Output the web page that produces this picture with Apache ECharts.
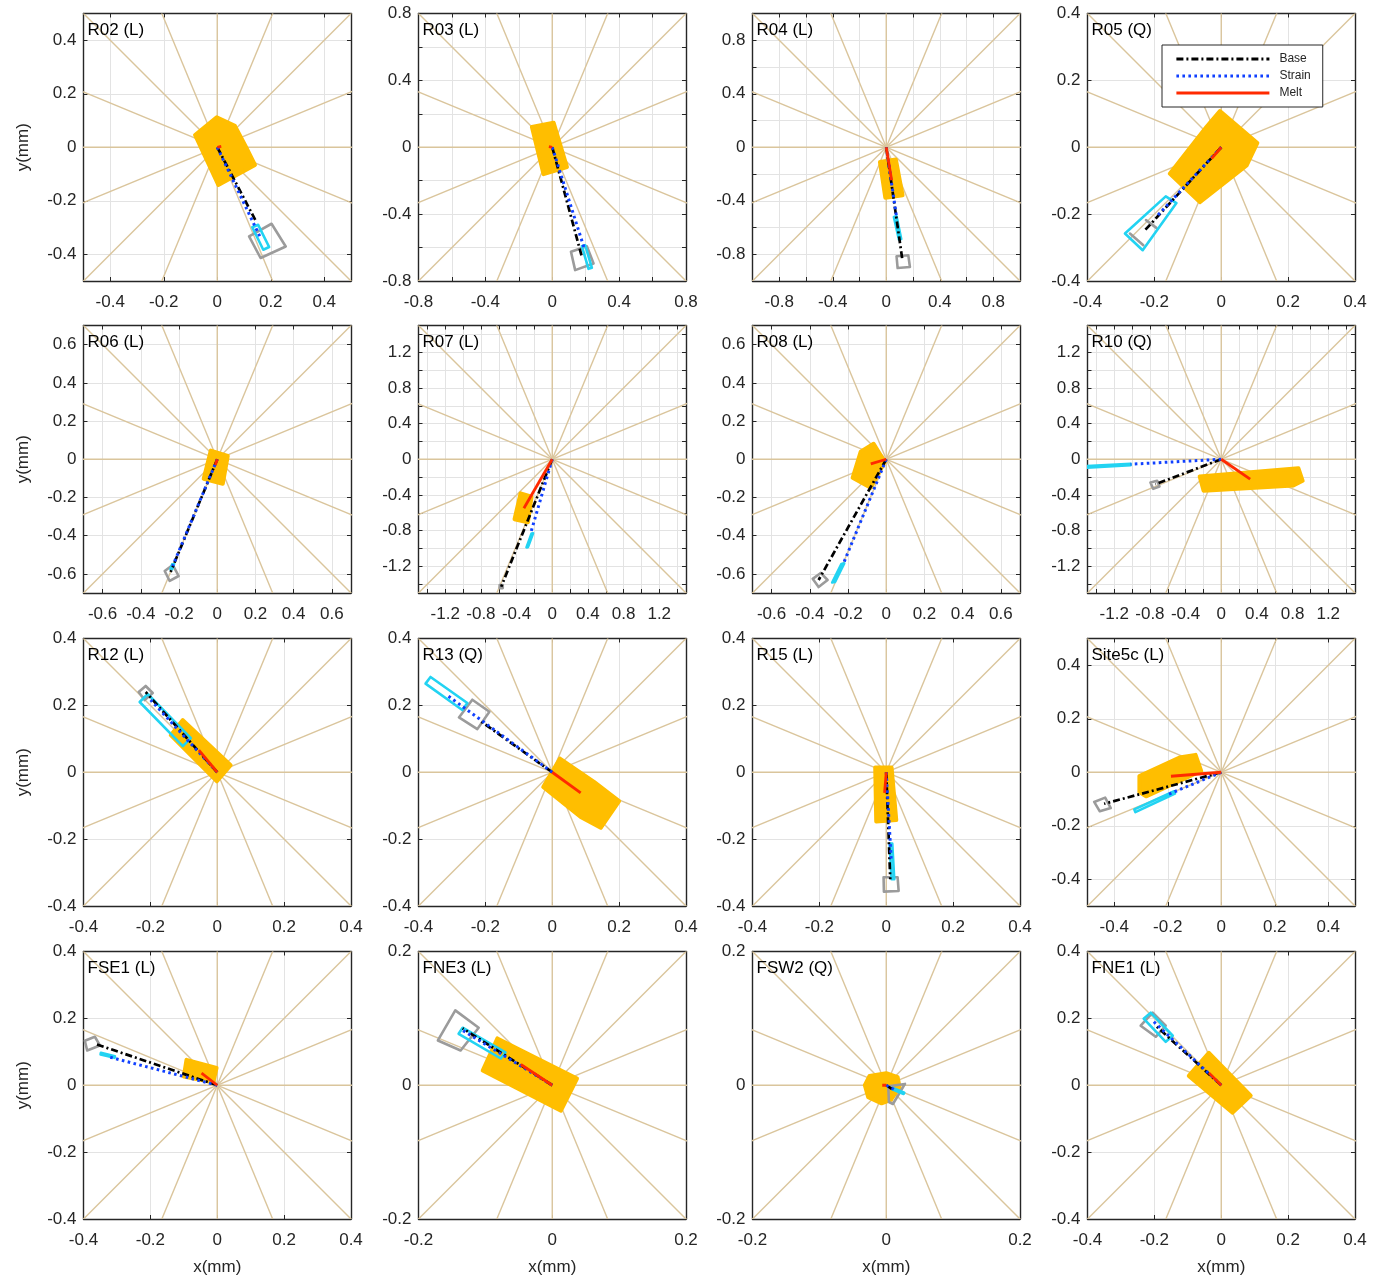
<!DOCTYPE html>
<html><head><meta charset="utf-8">
<script src="https://cdn.jsdelivr.net/npm/echarts@6/dist/echarts.min.js"></script>
<style>html,body{margin:0;padding:0;background:#fff}#c{width:1384px;height:1278px}</style>
</head><body><div id="c"></div><script>
// ---------------- data ----------------
const PANEL_TITLES = ['R02 (L)','R03 (L)','R04 (L)','R05 (Q)','R06 (L)','R07 (L)','R08 (L)','R10 (Q)',
  'R12 (L)','R13 (Q)','R15 (L)','Site5c (L)','FSE1 (L)','FNE3 (L)','FSW2 (Q)','FNE1 (L)'];
const AXIS_HALF_RANGE = [0.5,0.8,1.0,0.4, 0.7,1.5,0.7,1.5, 0.4,0.4,0.4,0.5, 0.4,0.2,0.2,0.4];

const TICKS_A = [-0.4,-0.2,0,0.2,0.4];
const TICKS_B = [-0.8,-0.6,-0.4,-0.2,0,0.2,0.4,0.6,0.8];
const TICKS_C = [-1,-0.8,-0.6,-0.4,-0.2,0,0.2,0.4,0.6,0.8,1];
const TICKS_D = [-0.6,-0.4,-0.2,0,0.2,0.4,0.6];
const TICKS_E = [-1.4,-1.2,-1,-0.8,-0.6,-0.4,-0.2,0,0.2,0.4,0.6,0.8,1,1.2,1.4];
const TICKS_F = [-0.2,0,0.2];
const LABELS_A = [-0.4,-0.2,0,0.2,0.4];
const LABELS_B = [-0.8,-0.4,0,0.4,0.8];
const LABELS_D = [-0.6,-0.4,-0.2,0,0.2,0.4,0.6];
const LABELS_E = [-1.2,-0.8,-0.4,0,0.4,0.8,1.2];
const LABELS_F = [-0.2,0,0.2];
const PANEL_TICKS = [TICKS_A,TICKS_B,TICKS_C,TICKS_A, TICKS_D,TICKS_E,TICKS_D,TICKS_E, TICKS_A,TICKS_A,TICKS_A,TICKS_A, TICKS_A,TICKS_F,TICKS_F,TICKS_A];
const PANEL_LABELS = [LABELS_A,LABELS_B,LABELS_B,LABELS_A, LABELS_D,LABELS_E,LABELS_D,LABELS_E, LABELS_A,LABELS_A,LABELS_A,LABELS_A, LABELS_A,LABELS_F,LABELS_F,LABELS_A];

const SPOKE_ANGLES = [0,22.5,45,67.5,90,112.5,135,157.5];

// end points of the vectors (mm)
const BASE_END = [[0.147,-0.281],[0.177,-0.655],[0.12,-0.838],[-0.228,-0.248],
  [-0.244,-0.59],[-0.572,-1.429],[-0.354,-0.632],[-0.738,-0.28],
  [-0.214,0.24],[-0.216,0.154],[0.012,-0.32],[-0.438,-0.118],
  [-0.366,0.124],[-0.134,0.085],[0.012,-0.008],[-0.196,0.178]];
const STRAIN_END = [[0.159,-0.333],[0.19,-0.6],[0.077,-0.521],[-0.194,-0.208],
  [-0.233,-0.558],[-0.243,-0.831],[-0.223,-0.543],[-1.017,-0.056],
  [-0.199,0.216],[-0.314,0.23],[0.015,-0.263],[-0.206,-0.086],
  [-0.321,0.084],[-0.134,0.082],[0.015,-0.008],[-0.205,0.193]];
const MELT_END = [[0.015,0.003],[-0.02,0.004],[0.04,-0.247],[-0.029,-0.034],
  [-0.01,-0.03],[-0.318,-0.55],[-0.081,-0.024],[0.324,-0.224],
  [-0.055,0.066],[0.085,-0.062],[-0.005,-0.062],[-0.188,-0.015],
  [-0.047,0.036],[-0.047,0.031],[-0.006,0],[-0.037,0.037]];

// melt uncertainty regions (orange)
const MELT_REGION = [
  [[-0.083,0.046],[-0.002,0.112],[0.066,0.08],[0.107,0.002],[0.141,-0.066],[0.004,-0.141]],
  [[-0.122,0.122],[0.008,0.147],[0.088,-0.118],[-0.052,-0.161]],
  [[-0.047,-0.11],[0.072,-0.092],[0.122,-0.359],[-0.007,-0.377]],
  [[-0.004,0.108],[0.108,0.013],[0.076,-0.054],[-0.064,-0.164],[-0.154,-0.079],[-0.044,0.061]],
  [[-0.034,0.045],[0.055,0.018],[0.029,-0.128],[-0.071,-0.102]],
  [[-0.355,-0.382],[-0.232,-0.419],[-0.273,-0.707],[-0.423,-0.673]],
  [[-0.134,0.039],[-0.066,0.081],[-0.008,-0.013],[-0.081,-0.149],[-0.176,-0.097]],
  [[-0.242,-0.194],[0.865,-0.1],[0.913,-0.242],[0.809,-0.294],[-0.198,-0.354]],
  [[-0.139,0.111],[-0.103,0.156],[0.04,0.021],[-0.001,-0.027]],
  [[0.023,0.041],[0.125,-0.029],[0.2,-0.086],[0.145,-0.166],[0.085,-0.134],[-0.027,-0.044]],
  [[-0.033,0.014],[0.016,0.014],[0.03,-0.143],[-0.03,-0.147]],
  [[-0.306,-0.014],[-0.156,0.055],[-0.096,0.065],[-0.075,0.005],[-0.281,-0.09],[-0.306,-0.074]],
  [[-0.092,0.076],[-0.002,0.052],[-0.012,0.009],[-0.1,0.026]],
  [[-0.082,0.07],[0.037,0.01],[0.013,-0.038],[-0.104,0.022]],
  [[-0.025,0.014],[0,0.018],[0.017,0.012],[0.02,-0.003],[0.007,-0.022],[-0.007,-0.027],[-0.027,-0.018],[-0.032,0]],
  [[-0.097,0.028],[-0.037,0.097],[0.088,-0.031],[0.034,-0.082]]
];
// strain uncertainty boxes (cyan)
const STRAIN_BOX = [
  [[0.131,-0.299],[0.153,-0.29],[0.194,-0.373],[0.172,-0.383]],
  [[0.177,-0.592],[0.197,-0.586],[0.237,-0.721],[0.217,-0.727]],
  [[0.057,-0.521],[0.077,-0.516],[0.112,-0.686],[0.095,-0.691]],
  [[-0.166,-0.147],[-0.134,-0.167],[-0.235,-0.308],[-0.288,-0.258]],
  [[-0.236,-0.55],[-0.226,-0.548],[-0.236,-0.575],[-0.245,-0.577]],
  [[-0.215,-0.83],[-0.232,-0.832],[-0.289,-0.988],[-0.272,-0.986]],
  [[-0.22,-0.545],[-0.235,-0.548],[-0.283,-0.645],[-0.268,-0.642]],
  [[-1.017,-0.05],[-1.6,-0.08],[-1.6,-0.1],[-1.017,-0.068]],
  [[-0.232,0.21],[-0.208,0.234],[-0.079,0.102],[-0.103,0.078]],
  [[-0.379,0.265],[-0.364,0.285],[-0.254,0.207],[-0.269,0.186]],
  [[0.01,-0.213],[0.018,-0.213],[0.024,-0.32],[0.016,-0.32]],
  [[-0.325,-0.139],[-0.176,-0.071],[-0.173,-0.08],[-0.321,-0.149]],
  [[-0.348,0.097],[-0.306,0.087],[-0.307,0.082],[-0.349,0.092]],
  [[-0.14,0.077],[-0.134,0.086],[-0.07,0.049],[-0.077,0.04]],
  [[0.01,-0.004],[0.027,-0.011],[0.026,-0.013],[0.009,-0.006]],
  [[-0.232,0.199],[-0.211,0.217],[-0.145,0.148],[-0.166,0.13]]
];
// base uncertainty boxes (gray), one or more outlines per panel
const BASE_BOX = [
  [[[0.119,-0.333],[0.203,-0.286],[0.256,-0.371],[0.162,-0.414]]],
  [[[0.112,-0.625],[0.207,-0.592],[0.247,-0.695],[0.137,-0.735]]],
  [[[0.077,-0.815],[0.165,-0.808],[0.177,-0.895],[0.085,-0.903]]],
  [[[-0.225,-0.218],[-0.194,-0.241]],[[-0.273,-0.258],[-0.233,-0.293]]],
  [[[-0.275,-0.585],[-0.233,-0.553],[-0.202,-0.611],[-0.249,-0.637]]],
  [[[-0.59,-1.41],[-0.555,-1.41],[-0.555,-1.445],[-0.59,-1.445]]],
  [[[-0.385,-0.626],[-0.343,-0.595],[-0.307,-0.632],[-0.354,-0.669]]],
  [[[-0.794,-0.261],[-0.719,-0.242],[-0.693,-0.306],[-0.764,-0.332]]],
  [[[-0.235,0.24],[-0.214,0.258],[-0.193,0.237],[-0.217,0.216]]],
  [[[-0.279,0.164],[-0.239,0.217],[-0.188,0.181],[-0.224,0.129]]],
  [[[-0.008,-0.314],[0.034,-0.314],[0.037,-0.355],[-0.007,-0.357]]],
  [[[-0.475,-0.111],[-0.434,-0.095],[-0.413,-0.134],[-0.454,-0.146]]],
  [[[-0.396,0.133],[-0.366,0.145],[-0.351,0.119],[-0.389,0.104]]],
  [[[-0.171,0.067],[-0.145,0.112],[-0.11,0.086],[-0.137,0.052]]],
  [[[0.003,-0.0015],[0.028,0.002],[0.01,-0.028],[0.004,-0.025]]],
  [[[-0.241,0.178],[-0.205,0.217],[-0.166,0.178],[-0.196,0.145]]]
];

// ---------------- layout / style ----------------
const FONT = "'Liberation Sans', Arial, Helvetica, sans-serif";
const GRID_LEFTS = [83.5, 418.5, 752.5, 1087.5];
const GRID_TOPS = [13.5, 325.5, 638.5, 951.5];
const BOX = 267.5;
const C_AXIS = '#262626', C_GRID = '#e3e3e3', C_SPOKE = '#dac59c';
const C_ORANGE = '#ffbe00', C_GRAY = '#9b9b9b', C_CYAN = '#22d3f2';
const C_BLUE = '#1040ff', C_RED = '#ff2a00';

const fmt = v => { const s = String(+(+v).toFixed(2)); return s === '-0' ? '0' : s; };

const grids = [], xAxes = [], yAxes = [], series = [], titles = [];
PANEL_TITLES.forEach((name, p) => {
  const col = p % 4, row = Math.floor(p / 4);
  const h = AXIS_HALF_RANGE[p];
  grids.push({ left: GRID_LEFTS[col], top: GRID_TOPS[row], width: BOX, height: BOX, containLabel: false });
  const mkAxis = (pos, main, isX) => ({
    type: 'value', gridIndex: p, position: pos, min: -h, max: h,
    axisLine: { show: true, onZero: false, lineStyle: { color: C_AXIS, width: 1.4 } },
    axisTick: { show: true, inside: true, length: 4, customValues: PANEL_TICKS[p], lineStyle: { color: C_AXIS, width: 1 } },
    axisLabel: { show: main, customValues: PANEL_LABELS[p], formatter: fmt, fontSize: 17, color: C_AXIS, fontFamily: FONT, margin: isX ? 13 : 7 },
    splitLine: { show: main, lineStyle: { color: C_GRID, width: 1 } },
    name: main ? (isX ? (row === 3 ? 'x(mm)' : '') : (col === 0 ? 'y(mm)' : '')) : '',
    nameLocation: 'middle', nameGap: isX ? 40 : 52,
    nameTextStyle: { fontSize: 17, color: C_AXIS, fontFamily: FONT }
  });
  xAxes.push(mkAxis('bottom', true, true), mkAxis('top', false, true));
  yAxes.push(mkAxis('left', true, false), mkAxis('right', false, false));
  const ax = { xAxisIndex: 2 * p, yAxisIndex: 2 * p };

  titles.push({ text: name, left: GRID_LEFTS[col] + 4, top: GRID_TOPS[row] + 8, padding: 0,
    textStyle: { fontSize: 17, fontWeight: 'normal', color: '#000', fontFamily: FONT } });

  // radial reference spokes
  series.push(Object.assign({
    type: 'custom', clip: true, silent: true, z: 1,
    data: SPOKE_ANGLES.map(() => [0, 0]),
    renderItem: (params, api) => {
      const a = SPOKE_ANGLES[params.dataIndex] * Math.PI / 180, R = h * 3;
      const p1 = api.coord([-R * Math.cos(a), -R * Math.sin(a)]);
      const p2 = api.coord([R * Math.cos(a), R * Math.sin(a)]);
      return { type: 'line', shape: { x1: p1[0], y1: p1[1], x2: p2[0], y2: p2[1] },
        style: { stroke: C_SPOKE, lineWidth: 1.4 } };
    }
  }, ax));

  const polySeries = (polys, style, z) => Object.assign({
    type: 'custom', clip: true, silent: true, z,
    data: polys.map(() => [0, 0]),
    renderItem: (params, api) => ({
      type: 'polygon',
      shape: { points: polys[params.dataIndex].map(pt => api.coord(pt)) },
      style: style
    })
  }, ax);

  series.push(polySeries([MELT_REGION[p]], { fill: C_ORANGE, stroke: C_ORANGE, lineWidth: 4, lineJoin: 'round' }, 2));
  series.push(polySeries(BASE_BOX[p], { fill: 'none', stroke: C_GRAY, lineWidth: 2.6, lineJoin: 'round' }, 3));
  series.push(polySeries([STRAIN_BOX[p]], { fill: 'none', stroke: C_CYAN, lineWidth: 2.6, lineJoin: 'round' }, 4));

  const lineSeries = (nm, end, color, width, type, z) => Object.assign({
    type: 'line', name: nm, data: [[0, 0], end], symbol: 'none', showSymbol: false, silent: true, z,
    lineStyle: { color, width, type, cap: 'butt' }, itemStyle: { color }
  }, ax);
  series.push(lineSeries('Base', BASE_END[p], '#000', 2.7, [7, 3, 2, 3], 5));
  series.push(lineSeries('Strain', STRAIN_END[p], C_BLUE, 3, [2.6, 3.4], 6));
  series.push(lineSeries('Melt', MELT_END[p], C_RED, 2.8, 'solid', 7));
});

const chart = echarts.init(document.getElementById('c'), null, { renderer: 'canvas' });
chart.setOption({
  animation: false,
  backgroundColor: '#fff',
  title: titles,
  grid: grids,
  xAxis: xAxes,
  yAxis: yAxes,
  legend: {
    data: ['Base', 'Strain', 'Melt'], orient: 'vertical', left: 1162, top: 45,
    itemWidth: 93, itemHeight: 12, itemGap: 5, padding: [8, 12, 8, 13],
    backgroundColor: '#fff', borderColor: C_AXIS, borderWidth: 1, borderRadius: 0,
    selectedMode: false, z: 20,
    itemStyle: { opacity: 0, borderWidth: 0 },
    lineStyle: { width: 2.8 },
    textStyle: { fontSize: 12, color: C_AXIS, fontFamily: FONT, padding: [0, 0, 0, 5] }
  },
  series: series
});
</script></body></html>
